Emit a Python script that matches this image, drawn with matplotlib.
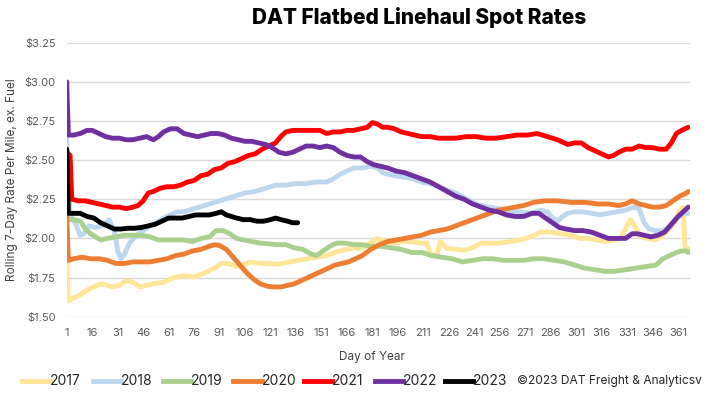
import matplotlib
matplotlib.use("Agg")
import matplotlib.pyplot as plt
from matplotlib.lines import Line2D

plt.rcParams['font.family'] = ['Inter', 'DejaVu Sans']

title = "DAT Flatbed Linehaul Spot Rates"
y_label = "Rolling 7-Day Rate Per Mile, ex. Fuel"
x_label = "Day of Year"
credit = "©2023 DAT Freight & Analyticsv"
x_ticks = list(range(1, 362, 15))
y_ticks = [1.50, 1.75, 2.00, 2.25, 2.50, 2.75, 3.00, 3.25]
years = ["2017", "2018", "2019", "2020", "2021", "2022", "2023"]
colors = ["#FFE699", "#BDD7EE", "#A9D18E", "#ED7D31", "#FF0000", "#7030A0", "#000000"]

days17 = [1, 2, 5, 9, 13, 17, 21, 25, 28, 32, 36, 40, 44, 48, 52, 58, 64, 70, 76, 80,
          84, 88, 92, 96, 101, 105, 109, 115, 120, 125, 130, 137, 143, 148, 154, 160, 166, 170, 174, 178,
          184, 189, 194, 199, 204, 209, 213, 215, 219, 221, 225, 230, 235, 240, 245, 250, 256, 262, 268, 274,
          280, 286, 292, 298, 303, 308, 313, 318, 323, 327, 330, 333, 336, 339, 343, 347, 351, 355, 359, 362,
          364, 365, 367]
vals17 = [1.85, 1.60, 1.62, 1.64, 1.67, 1.69, 1.71, 1.70, 1.69, 1.70, 1.73, 1.72, 1.69, 1.70, 1.71, 1.72, 1.75, 1.76, 1.755, 1.77,
          1.79, 1.81, 1.84, 1.84, 1.82, 1.83, 1.85, 1.84, 1.84, 1.835, 1.845, 1.86, 1.87, 1.88, 1.89, 1.915, 1.93, 1.94, 1.935, 1.96,
          2.00, 1.98, 1.97, 1.98, 1.98, 1.97, 1.97, 1.90, 1.89, 1.98, 1.935, 1.93, 1.925, 1.94, 1.97, 1.97, 1.97, 1.98, 1.99, 2.01,
          2.04, 2.04, 2.03, 2.02, 2.00, 2.00, 1.99, 1.98, 1.99, 2.00, 2.06, 2.12, 2.07, 2.01, 2.00, 1.99, 2.01, 2.05, 2.10, 2.18,
          2.20, 1.95, 1.93]

days18 = [1, 3, 6, 9, 11, 14, 18, 22, 26, 29, 31, 33, 35, 38, 42, 46, 50, 54, 58, 62,
          66, 70, 76, 82, 88, 94, 100, 106, 112, 118, 124, 130, 136, 142, 148, 154, 158, 162, 166, 170,
          175, 180, 184, 187, 190, 195, 200, 205, 210, 215, 220, 225, 230, 235, 240, 245, 250, 256, 262, 268,
          274, 280, 284, 287, 290, 293, 296, 300, 305, 310, 315, 320, 325, 330, 335, 338, 341, 344, 348, 352,
          356, 360, 364, 367]
vals18 = [2.65, 2.15, 2.10, 2.02, 2.03, 2.08, 2.07, 2.08, 2.12, 2.05, 1.92, 1.87, 1.90, 1.97, 2.02, 2.05, 2.08, 2.10, 2.13, 2.15,
          2.17, 2.17, 2.19, 2.21, 2.23, 2.25, 2.27, 2.29, 2.30, 2.32, 2.34, 2.34, 2.35, 2.35, 2.36, 2.36, 2.38, 2.41, 2.43, 2.45,
          2.45, 2.46, 2.45, 2.42, 2.41, 2.40, 2.39, 2.38, 2.36, 2.35, 2.33, 2.31, 2.29, 2.26, 2.23, 2.21, 2.20, 2.19, 2.17, 2.17,
          2.16, 2.18, 2.17, 2.13, 2.11, 2.14, 2.16, 2.17, 2.17, 2.16, 2.15, 2.16, 2.17, 2.18, 2.20, 2.19, 2.10, 2.06, 2.05, 2.05,
          2.07, 2.13, 2.16, 2.16]

days19 = [1, 5, 9, 12, 15, 18, 21, 25, 30, 35, 40, 45, 50, 55, 60, 65, 70, 75, 80, 85,
          89, 93, 97, 101, 105, 110, 115, 120, 125, 130, 135, 140, 145, 148, 152, 156, 160, 165, 170, 175,
          180, 186, 192, 198, 204, 210, 216, 222, 228, 234, 240, 246, 252, 258, 264, 270, 276, 282, 288, 294,
          300, 306, 312, 318, 324, 330, 336, 342, 348, 352, 356, 360, 363, 366, 367]
vals19 = [2.12, 2.12, 2.11, 2.06, 2.03, 2.01, 1.99, 2.00, 2.01, 2.02, 2.02, 2.02, 2.01, 1.99, 1.99, 1.99, 1.99, 1.98, 2.00, 2.01,
          2.05, 2.05, 2.03, 2.00, 1.99, 1.98, 1.97, 1.965, 1.96, 1.96, 1.94, 1.93, 1.90, 1.89, 1.92, 1.95, 1.97, 1.97, 1.96, 1.96,
          1.95, 1.95, 1.94, 1.93, 1.91, 1.91, 1.89, 1.88, 1.87, 1.85, 1.86, 1.87, 1.87, 1.86, 1.86, 1.86, 1.87, 1.87, 1.86, 1.85,
          1.83, 1.81, 1.80, 1.79, 1.79, 1.80, 1.81, 1.82, 1.83, 1.87, 1.89, 1.91, 1.92, 1.92, 1.91]

days20 = [1, 2, 5, 10, 15, 20, 25, 30, 35, 40, 45, 50, 55, 60, 65, 70, 75, 80, 85, 88,
          91, 95, 99, 103, 107, 111, 115, 119, 123, 127, 131, 135, 139, 143, 147, 151, 155, 159, 163, 167,
          171, 175, 180, 185, 190, 195, 200, 205, 210, 215, 220, 225, 230, 235, 240, 245, 250, 255, 260, 265,
          270, 276, 282, 290, 298, 306, 314, 320, 326, 330, 334, 338, 342, 346, 350, 354, 358, 362, 366, 367]
vals20 = [2.15, 1.86, 1.87, 1.88, 1.87, 1.87, 1.86, 1.84, 1.84, 1.85, 1.85, 1.85, 1.86, 1.87, 1.89, 1.90, 1.92, 1.93, 1.95, 1.96,
          1.955, 1.93, 1.88, 1.83, 1.78, 1.74, 1.71, 1.695, 1.69, 1.69, 1.70, 1.71, 1.73, 1.75, 1.77, 1.79, 1.81, 1.83, 1.84, 1.85,
          1.87, 1.89, 1.93, 1.96, 1.98, 1.99, 2.00, 2.01, 2.02, 2.04, 2.05, 2.06, 2.08, 2.10, 2.12, 2.14, 2.16, 2.18, 2.19, 2.20,
          2.21, 2.23, 2.24, 2.24, 2.23, 2.23, 2.22, 2.22, 2.21, 2.22, 2.24, 2.22, 2.21, 2.20, 2.20, 2.21, 2.24, 2.27, 2.29, 2.30]

days21 = [1, 3, 4, 8, 12, 16, 20, 24, 28, 32, 36, 40, 43, 46, 49, 52, 56, 60, 64, 68,
          72, 76, 80, 84, 88, 92, 96, 100, 104, 108, 112, 116, 120, 124, 127, 130, 134, 138, 142, 146,
          150, 154, 158, 162, 166, 170, 174, 178, 181, 184, 187, 190, 194, 198, 202, 206, 210, 215, 220, 225,
          230, 236, 242, 248, 254, 260, 266, 272, 278, 284, 290, 296, 300, 304, 308, 312, 316, 320, 323, 326,
          330, 334, 338, 342, 346, 350, 354, 357, 360, 363, 367]
vals21 = [2.55, 2.53, 2.25, 2.24, 2.24, 2.23, 2.22, 2.21, 2.20, 2.20, 2.19, 2.20, 2.21, 2.24, 2.29, 2.30, 2.32, 2.33, 2.33, 2.34,
          2.36, 2.37, 2.40, 2.41, 2.44, 2.45, 2.48, 2.49, 2.51, 2.53, 2.54, 2.57, 2.59, 2.61, 2.65, 2.68, 2.69, 2.69, 2.69, 2.69,
          2.69, 2.67, 2.68, 2.68, 2.69, 2.69, 2.70, 2.71, 2.74, 2.73, 2.71, 2.71, 2.70, 2.68, 2.67, 2.66, 2.65, 2.65, 2.64, 2.64,
          2.64, 2.65, 2.65, 2.64, 2.64, 2.65, 2.66, 2.66, 2.67, 2.65, 2.63, 2.60, 2.61, 2.61, 2.58, 2.56, 2.54, 2.52, 2.53, 2.55,
          2.57, 2.57, 2.59, 2.58, 2.58, 2.57, 2.57, 2.61, 2.67, 2.69, 2.71]

days22 = [1, 2, 5, 9, 13, 16, 20, 24, 28, 32, 36, 40, 44, 48, 52, 55, 58, 62, 66, 70,
          74, 78, 82, 86, 90, 94, 98, 102, 106, 110, 114, 118, 122, 126, 130, 134, 138, 142, 146, 150,
          154, 158, 162, 166, 170, 174, 178, 182, 186, 190, 195, 200, 205, 210, 215, 220, 225, 230, 235, 240,
          245, 250, 255, 260, 265, 270, 275, 279, 283, 287, 291, 295, 300, 305, 310, 315, 320, 325, 330, 334,
          337, 341, 345, 349, 353, 357, 361, 364, 367]
vals22 = [3.00, 2.66, 2.66, 2.67, 2.69, 2.69, 2.67, 2.65, 2.64, 2.64, 2.63, 2.63, 2.64, 2.65, 2.63, 2.65, 2.68, 2.70, 2.70, 2.67,
          2.66, 2.65, 2.66, 2.67, 2.67, 2.66, 2.64, 2.63, 2.62, 2.62, 2.61, 2.60, 2.58, 2.55, 2.54, 2.55, 2.57, 2.59, 2.59, 2.58,
          2.59, 2.58, 2.55, 2.53, 2.52, 2.52, 2.49, 2.47, 2.46, 2.45, 2.43, 2.42, 2.40, 2.38, 2.36, 2.33, 2.30, 2.27, 2.25, 2.22,
          2.20, 2.18, 2.17, 2.15, 2.14, 2.14, 2.16, 2.16, 2.13, 2.10, 2.07, 2.06, 2.05, 2.05, 2.04, 2.02, 2.00, 2.00, 2.00, 2.03,
          2.03, 2.02, 2.01, 2.02, 2.04, 2.09, 2.14, 2.17, 2.20]

days23 = [1, 2, 5, 9, 13, 17, 21, 25, 29, 33, 37, 41, 45, 49, 53, 57, 61, 65, 69, 73,
          77, 81, 85, 89, 92, 95, 98, 101, 105, 109, 113, 117, 121, 124, 127, 131, 134, 137]
vals23 = [2.57, 2.16, 2.16, 2.16, 2.14, 2.13, 2.10, 2.08, 2.06, 2.06, 2.065, 2.065, 2.07, 2.08, 2.09, 2.11, 2.13, 2.13, 2.13, 2.14,
          2.15, 2.15, 2.15, 2.16, 2.17, 2.15, 2.14, 2.13, 2.12, 2.12, 2.11, 2.11, 2.12, 2.13, 2.12, 2.11, 2.10, 2.10]

series = [(days17, vals17), (days18, vals18), (days19, vals19), (days20, vals20),
          (days21, vals21), (days22, vals22), (days23, vals23)]

W, H = 708, 398
fig = plt.figure(figsize=(W / 100, H / 100), dpi=100)
ax = fig.add_axes([66.7 / W, 1 - 316.7 / H, (690 - 66.7) / W, (316.7 - 42.7) / H])

for (d, v), c, yr in zip(series, colors, years):
    ax.plot(d, v, color=c, lw=3.5, solid_joinstyle='round', solid_capstyle='round', label=yr)

ax.set_xlim(1, 368)
ax.set_ylim(1.5, 3.25)
ax.set_xticks(x_ticks)
ax.set_xticklabels([str(t) for t in x_ticks])
ax.set_yticks(y_ticks)
ax.set_yticklabels([f"${t:.2f}" for t in y_ticks])
ax.tick_params(length=0, labelsize=8, labelcolor="#595959", pad=8)
ax.grid(axis='y', color="#D9D9D9", lw=1)
ax.set_axisbelow(True)
for s in ax.spines.values():
    s.set_visible(False)

fig.text(419 / W, 1 - 18 / H, title, ha='center', va='center', fontsize=15, fontweight='heavy', color='black')
fig.text(12 / W, 1 - 180 / H, y_label, rotation=90, ha='center', va='center', fontsize=8.5, color='#404040')
fig.text(372 / W, 1 - 357 / H, x_label, ha='center', va='center', fontsize=8.5, color='#404040')

# legend
for i, (yr, c) in enumerate(zip(years, colors)):
    x0 = 22 + 70.5 * i
    fig.add_artist(Line2D([x0 / W, (x0 + 28) / W], [1 - 381 / H, 1 - 381 / H], color=c, lw=3.5,
                          transform=fig.transFigure))
    fig.text((x0 + 28) / W, 1 - 381 / H, yr, ha='left', va='center', fontsize=10, color='#262626')
fig.text(702 / W, 1 - 381 / H, credit, ha='right', va='center', fontsize=8.6, color='#262626')

fig.savefig("out.png", dpi=100)
